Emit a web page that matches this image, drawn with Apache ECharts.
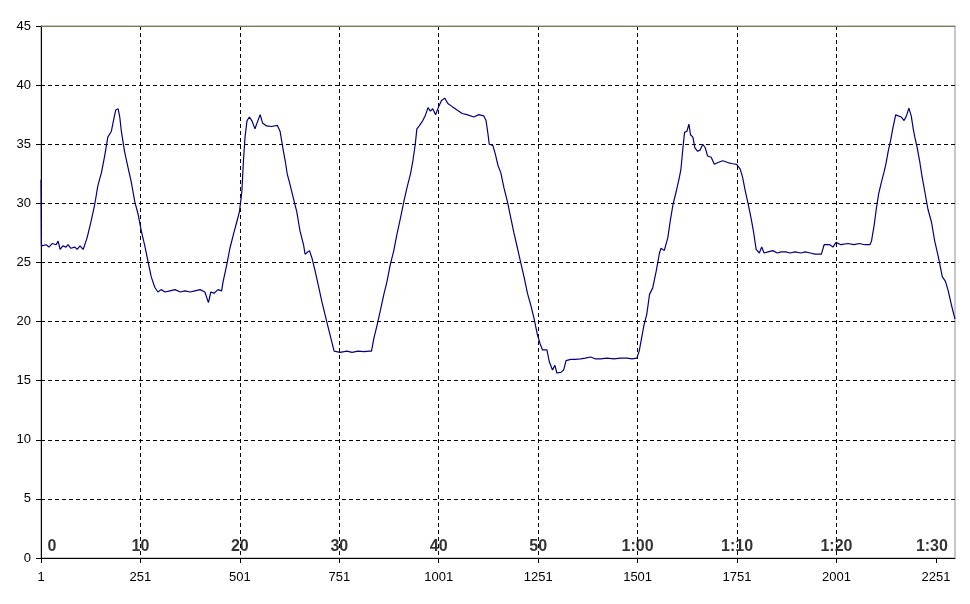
<!DOCTYPE html>
<html>
<head>
<meta charset="utf-8">
<script src="https://cdn.jsdelivr.net/npm/echarts@6/dist/echarts.min.js"></script>
<style>
html,body{margin:0;padding:0;background:#fff;}
#chart{width:970px;height:604px;}
</style>
</head>
<body>
<div id="chart"></div>
<script>
// Sample numbers (1-based) and readings
const sampleNo = [
  1, 2, 6, 14, 21, 29, 39, 44, 49, 56, 64, 69, 76, 86, 92, 99, 107, 111,
  117, 127, 136, 144, 153, 161, 169, 178, 185, 189, 195, 199, 203, 211, 220, 228, 237, 245, 253, 262, 270, 278, 287, 295,
  303, 313, 325, 338, 351, 363, 376, 388, 401, 413, 418, 422, 428, 436, 446, 455,
  459, 468, 476, 485, 493, 500, 506, 510, 514, 519, 525, 531, 539, 543, 552, 558, 568, 581, 595, 602,
  609, 615, 620, 627, 635, 644, 652, 661, 665, 676, 682, 690, 698, 707, 715, 723, 732, 738,
  753, 770, 783, 798, 813, 826, 832,
  838, 846, 854, 863, 871, 879, 888, 896, 905, 913, 921, 930, 936, 942, 946, 952, 961, 967, 974, 980, 986, 993,
  1001, 1008, 1016, 1024, 1034, 1047, 1060, 1072, 1089, 1102, 1114, 1120, 1125, 1128, 1137, 1143, 1150,
  1157, 1165, 1174, 1182, 1190, 1199, 1207, 1216, 1224, 1233, 1241, 1249, 1256, 1262, 1273, 1279, 1287, 1293, 1298, 1308, 1315, 1321, 1333,
  1344, 1358, 1369, 1383, 1394, 1408, 1424, 1442, 1457, 1475, 1487, 1499,
  1505, 1511, 1517, 1524, 1531, 1539, 1548, 1556, 1560, 1568, 1573, 1577, 1583, 1590, 1598, 1606, 1610, 1615, 1619, 1625, 1630, 1634,
  1640, 1645, 1652, 1658, 1665, 1671, 1677, 1686, 1694, 1703, 1715, 1728, 1740, 1750,
  1759, 1765, 1772, 1778, 1786, 1792, 1799, 1807, 1813, 1819,
  1829, 1841, 1852, 1862, 1874, 1884, 1897, 1912, 1922, 1935, 1947, 1963,
  1970, 1984, 1992, 2000, 2012, 2030, 2045, 2059, 2072, 2085,
  2089, 2096, 2101, 2107, 2114, 2121, 2126, 2131, 2137, 2143, 2150, 2156, 2164, 2171, 2177, 2183, 2189, 2194, 2198,
  2204, 2210, 2216, 2223, 2231, 2240, 2248, 2257, 2267, 2275, 2282, 2290, 2299
];
const temps = [
  32.0, 26.4, 26.3, 26.5, 26.3, 26.6, 26.5, 26.8, 26.1, 26.4, 26.3, 26.5, 26.2, 26.3, 26.1, 26.4, 26.1, 26.2,
  27.1, 28.5, 29.9, 31.5, 32.6, 34.0, 35.6, 36.1, 37.3, 37.9, 38.0, 37.3, 36.1, 34.4, 33.0, 31.8, 30.1, 29.1, 27.7, 26.4, 25.1, 23.8, 22.9, 22.5,
  22.7, 22.5, 22.6, 22.7, 22.5, 22.6, 22.5, 22.6, 22.7, 22.5, 22.6, 21.6, 22.5, 22.4, 22.7, 22.6,
  23.4, 24.8, 26.2, 27.4, 28.4, 29.3, 31.0, 33.6, 35.6, 37.0, 37.3, 37.0, 36.3, 36.7, 37.5, 36.8, 36.55, 36.5, 36.6, 36.1,
  34.7, 33.6, 32.5, 31.6, 30.5, 29.3, 27.7, 26.5, 25.7, 26.0, 25.4, 24.3, 23.1, 21.7, 20.6, 19.5, 18.3, 17.5,
  17.4, 17.5, 17.4, 17.5, 17.45, 17.5, 17.5,
  18.6, 19.7, 20.9, 22.3, 23.4, 24.8, 26.0, 27.4, 28.8, 30.1, 31.3, 32.5, 33.6, 35.0, 36.3, 36.55, 37.0, 37.4, 38.1, 37.8, 38.0, 37.5,
  38.2, 38.7, 38.9, 38.45, 38.2, 37.9, 37.6, 37.5, 37.3, 37.5, 37.4, 37.0, 35.8, 35.0, 34.9, 34.2, 33.2,
  32.6, 31.3, 30.1, 28.8, 27.5, 26.2, 25.0, 23.7, 22.4, 21.3, 20.2, 18.9, 18.1, 17.6, 17.6, 16.6, 15.9, 16.3, 15.65, 15.7, 15.9, 16.7, 16.8,
  16.8, 16.85, 16.9, 17.0, 16.85, 16.85, 16.9, 16.85, 16.9, 16.9, 16.85, 16.9,
  17.5, 18.6, 19.7, 20.6, 22.3, 22.85, 24.3, 25.8, 26.2, 26.0, 26.1, 27.1, 28.5, 29.9, 31.0, 32.2, 32.9, 34.7, 36.0, 36.1, 36.7, 35.8,
  35.6, 34.7, 34.4, 34.5, 35.0, 34.7, 34.0, 33.9, 33.3, 33.45, 33.6, 33.45, 33.35, 33.3,
  32.9, 32.2, 31.0, 30.1, 28.8, 27.7, 26.1, 25.8, 26.3, 25.8,
  25.9, 26.0, 25.8, 25.9, 25.9, 25.8, 25.9, 25.8, 25.9, 25.8, 25.7, 25.7,
  26.5, 26.5, 26.3, 26.7, 26.5, 26.6, 26.5, 26.6, 26.5, 26.5,
  26.8, 28.2, 29.5, 30.8, 31.8, 32.7, 33.45, 34.4, 35.3, 36.4, 37.5, 37.4, 37.3, 37.0, 37.4, 38.05, 37.4, 36.3, 35.6,
  34.7, 33.6, 32.3, 31.0, 29.5, 28.4, 26.8, 25.5, 23.8, 23.4, 22.6, 21.4, 20.2
];
// Axis ticks (sample numbers) and the elapsed-time labels drawn at them
const tickSamples = [1, 251, 501, 751, 1001, 1251, 1501, 1751, 2001, 2251];
const timeLabels = ['0', '10', '20', '30', '40', '50', '1:00', '1:10', '1:20', '1:30'];
const lastSample = 2299;

const FONT = '"Liberation Sans", Arial, sans-serif';
const lineData = sampleNo.map((n, i) => [n - 1, temps[i]]);
const tickVals = tickSamples.map(n => n - 1);
const labelOffsets = {0: [11, 0], 9: [-4, 0]};
const timeData = tickSamples.map((n, i) => {
  const d = {value: [n - 1, 0], name: timeLabels[i]};
  if (labelOffsets[i]) d.label = {offset: labelOffsets[i]};
  return d;
});

const chart = echarts.init(document.getElementById('chart'), null, {renderer: 'canvas'});
chart.setOption({
  animation: false,
  backgroundColor: '#ffffff',
  grid: {left: 41, right: 15, top: 26, bottom: 46, show: true, borderColor: '#8f8fa0', borderWidth: 1, backgroundColor: 'transparent'},
  xAxis: [{
    type: 'value', min: 0, max: lastSample - 1, interval: 250, position: 'bottom',
    axisLine: {show: true, onZero: false, lineStyle: {color: '#000', width: 1}},
    axisTick: {show: true, length: 5, inside: false, customValues: tickVals, lineStyle: {color: '#000'}},
    axisLabel: {customValues: tickVals, formatter: v => String(v + 1), color: '#000', fontFamily: FONT, fontSize: 13, margin: 13},
    splitLine: {show: true, showMinLine: false, showMaxLine: false, lineStyle: {color: '#000', type: [4, 3], width: 1}}
  }, {
    type: 'value', min: 0, max: lastSample - 1, position: 'top',
    axisLine: {show: true, onZero: false, lineStyle: {color: '#7a7a48', width: 1}},
    axisTick: {show: false}, axisLabel: {show: false}, splitLine: {show: false}
  }],
  yAxis: {
    type: 'value', min: 0, max: 45, interval: 5,
    axisLine: {show: true, onZero: false, lineStyle: {color: '#000', width: 1}},
    axisTick: {show: true, length: 5, lineStyle: {color: '#000'}},
    axisLabel: {color: '#000', fontFamily: FONT, fontSize: 13, margin: 10},
    splitLine: {show: true, showMinLine: false, showMaxLine: false, lineStyle: {color: '#000', type: [4, 3], width: 1}}
  },
  series: [{
    type: 'line', data: lineData, showSymbol: false, symbol: 'none',
    lineStyle: {color: '#000080', width: 1.2}, z: 3
  }, {
    type: 'scatter', data: timeData, symbolSize: 1, itemStyle: {color: 'rgba(0,0,0,0)'},
    label: {show: true, position: 'top', distance: 3, formatter: p => p.name,
      color: '#000', fontFamily: FONT, fontWeight: 'bold', fontSize: 16},
    silent: true, z: 4
  }]
});
</script>
</body>
</html>
